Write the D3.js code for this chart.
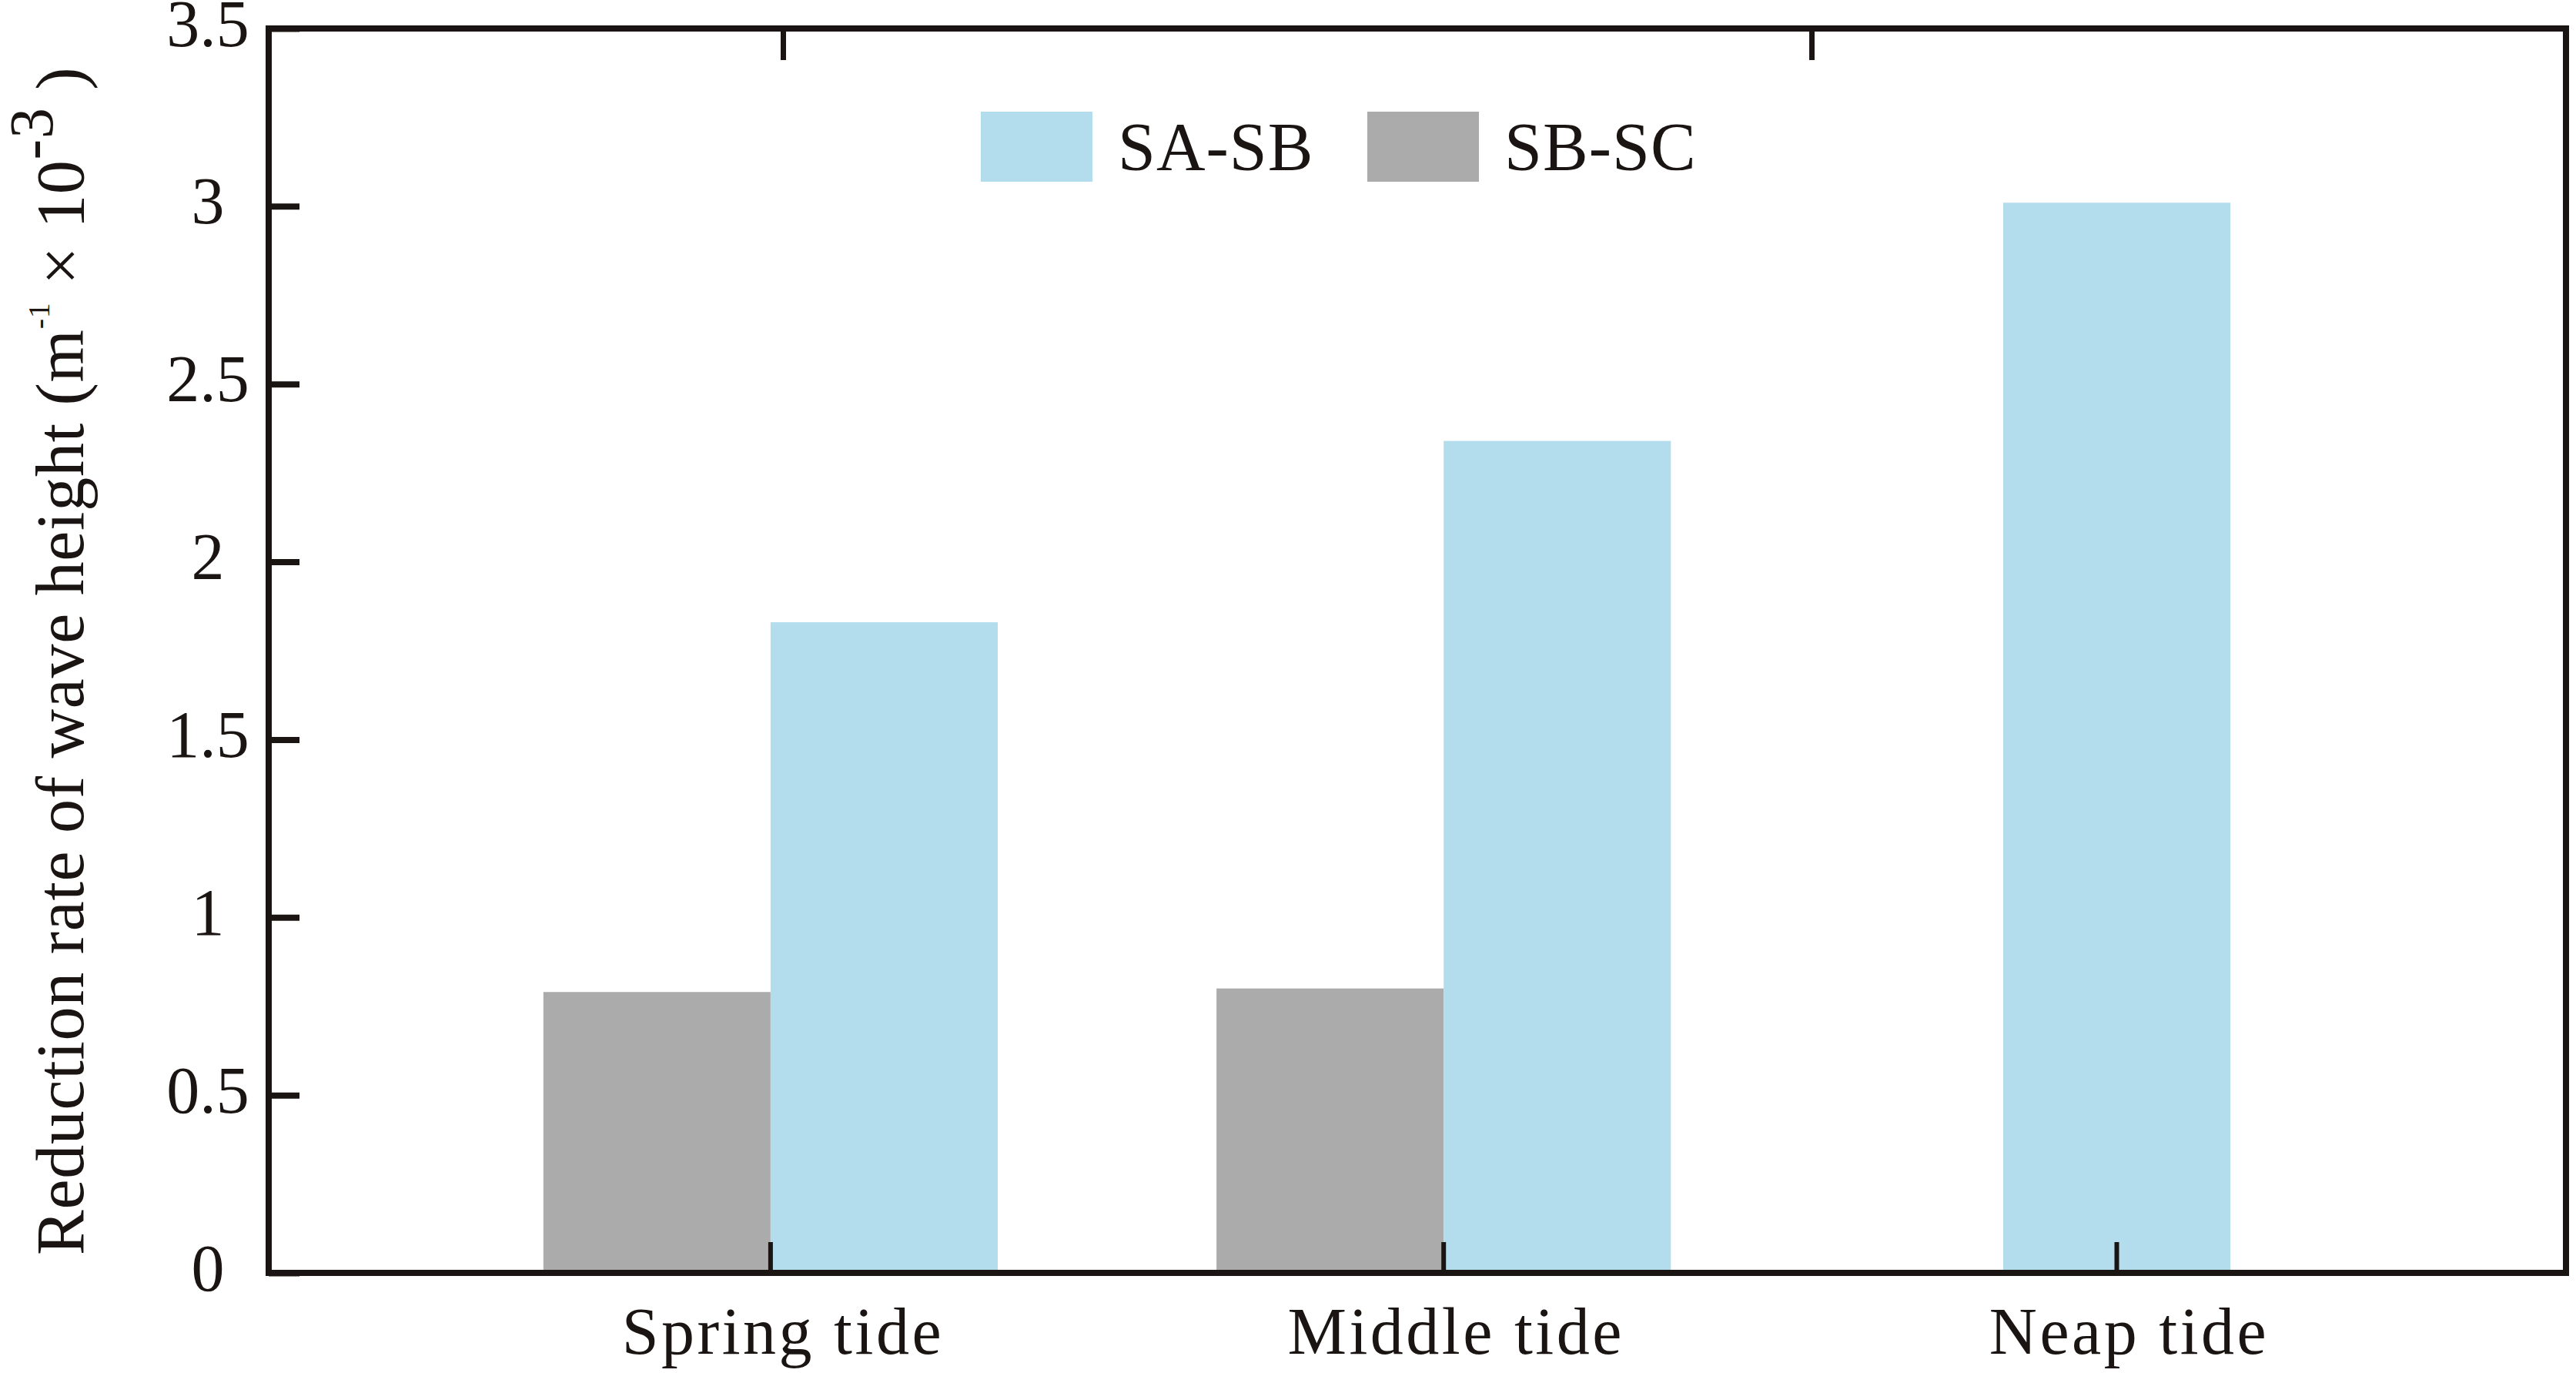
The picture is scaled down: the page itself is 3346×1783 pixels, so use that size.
<!DOCTYPE html>
<html>
<head>
<meta charset="utf-8">
<script src="https://cdn.jsdelivr.net/npm/d3@7"></script>
<style>
  body { margin: 0; background: #fff; }
  text { font-family: "Liberation Serif", "Times New Roman", serif; fill: #1a1512; }
</style>
</head>
<body>
<div id="chart"></div>
<script>
// values
const categories = ["Spring tide", "Middle tide", "Neap tide"];
const sbsc = [0.79, 0.80, null];   // grey bars
const sasb = [1.83, 2.34, 3.01];   // blue bars
const yTicks = [0, 0.5, 1, 1.5, 2, 2.5, 3, 3.5];
const topTicks = [1, 3];

const width = 3346, height = 1783;
const margin = {top: 37, right: 13, bottom: 130, left: 349};
const ink = "#1a1512";

// draw order inside a group: grey left, blue right
const series = [
  {name: "SB-SC", values: sbsc, color: "#ababab"},
  {name: "SA-SB", values: sasb, color: "#b3dced"}
];

const svg = d3.select("#chart").append("svg")
  .attr("width", width)
  .attr("height", height);

svg.append("rect").attr("width", width).attr("height", height).attr("fill", "#fff");

const x = d3.scaleBand()
  .domain(categories)
  .range([margin.left, width - margin.right])
  .paddingInner(0.325)
  .paddingOuter(0.369)
  .align(0.553);

const y = d3.scaleLinear()
  .domain([0, 3.5])
  .range([height - margin.bottom, margin.top]);

const barW = x.bandwidth() / series.length;

// bars
categories.forEach((c, i) => {
  const present = series.filter(s => s.values[i] != null);
  const mid = x(c) + x.bandwidth() / 2;
  const inner = d3.scaleBand()
    .domain(present.map(s => s.name))
    .range([mid - present.length * barW / 2, mid + present.length * barW / 2]);
  svg.append("g").selectAll("rect")
    .data(present)
    .enter()
    .append("rect")
    .attr("x", s => inner(s.name))
    .attr("width", inner.bandwidth())
    .attr("y", s => y(s.values[i]))
    .attr("height", s => y(0) - y(s.values[i]))
    .attr("fill", s => s.color);
});

// left axis
const yAxis = d3.axisLeft(y).tickValues(yTicks).tickSize(-40).tickFormat(d3.format("~g"));
const gy = svg.append("g")
  .attr("transform", `translate(${margin.left},0)`)
  .call(yAxis);
gy.select(".domain").remove();
gy.selectAll("line").attr("stroke", ink).attr("stroke-width", 8);
gy.selectAll("text")
  .attr("x", -79)
  .attr("dy", 22)
  .style("text-anchor", "middle")
  .style("font-size", "86px")
  .attr("fill", ink);

// bottom axis
const xAxis = d3.axisBottom(x).tickSize(-40);
const gx = svg.append("g")
  .attr("transform", `translate(0,${height - margin.bottom})`)
  .call(xAxis);
gx.select(".domain").remove();
gx.selectAll("line").attr("stroke", ink).attr("stroke-width", 6);
gx.selectAll("text")
  .attr("y", 105)
  .attr("dy", 0)
  .attr("dx", 16)
  .style("font-size", "86px")
  .style("letter-spacing", "3.5px")
  .attr("fill", ink);

// top axis (mirrored ticks only)
const xTop = d3.scaleLinear().domain([0, 4.467]).range([margin.left, width - margin.right]);
const gt = svg.append("g")
  .attr("transform", `translate(0,${margin.top})`)
  .call(d3.axisTop(xTop).tickValues(topTicks).tickSize(-41).tickFormat(""));
gt.select(".domain").remove();
gt.selectAll("line").attr("stroke", ink).attr("stroke-width", 7);

// frame
svg.append("rect")
  .attr("x", margin.left)
  .attr("y", margin.top)
  .attr("width", width - margin.right - margin.left)
  .attr("height", height - margin.bottom - margin.top)
  .attr("fill", "none")
  .attr("stroke", ink)
  .attr("stroke-width", 8);

// y title
const title = svg.append("text")
  .attr("transform", `translate(108,${height - margin.bottom - 23}) rotate(-90)`)
  .style("font-size", "88px")
  .style("letter-spacing", "0.7px");
title.append("tspan").text("Reduction rate of wave height (m");
title.append("tspan").attr("dy", -44).style("font-size", "40px").text("-1");
title.append("tspan").attr("dy", 44).text(" \u00d7 10");
title.append("tspan").attr("dy", -40).style("font-size", "80px").text("-3");
title.append("tspan").attr("dy", 40).text(" )");

// legend
const legendItems = [series[1], series[0]];
const legend = svg.append("g").attr("transform", "translate(1274,145)");
legendItems.forEach((s, i) => {
  const g = legend.append("g").attr("transform", `translate(${i * 502},0)`);
  g.append("rect").attr("width", 145).attr("height", 91).attr("fill", s.color);
  g.append("text")
    .attr("x", 178)
    .attr("y", 75)
    .style("font-size", "88px")
    .style("letter-spacing", "1px")
    .text(s.name);
});
</script>
</body>
</html>
